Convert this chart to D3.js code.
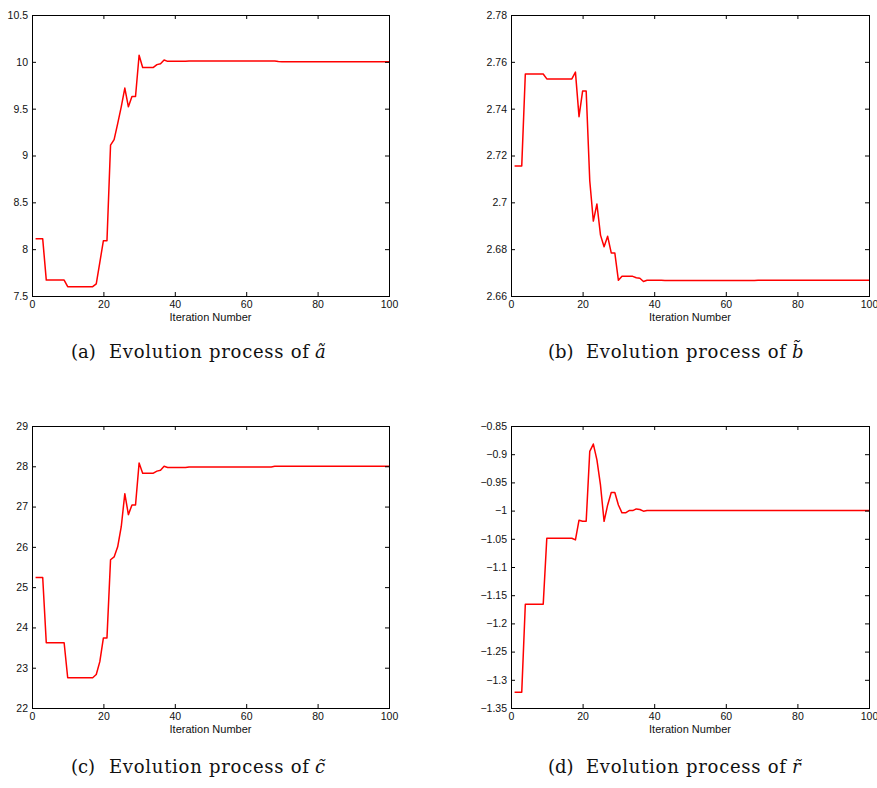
<!DOCTYPE html>
<html>
  <head>
    <title>Evolution process of the estimated parameters</title>
    <meta charset="UTF-8">
    <style>
      body { margin: 0; background: #fff; }
      svg { display: block; }
    </style>
  </head>
  <body>

    <svg></svg>

    <script src="https://d3js.org/d3.v7.min.js"></script>
    <script>

/* DATA (one value per iteration 1..100) */

var iterations = d3.range(1, 101);

var aValues = [
  8.11, 8.11, 8.11,
  7.67, 7.67, 7.67, 7.67, 7.67, 7.67,
  7.60, 7.60, 7.60, 7.60, 7.60, 7.60, 7.60, 7.60,
  7.63, 7.86, 8.09, 8.09, 9.11, 9.17, 9.34, 9.52, 9.72, 9.52,
  9.63, 9.63, 10.07, 9.94, 9.94, 9.94, 9.94, 9.97, 9.98, 10.02,
  10.005, 10.005, 10.005, 10.005, 10.005, 10.006,
  10.01, 10.01, 10.01, 10.01, 10.01, 10.01, 10.01, 10.01, 10.01, 10.01,
  10.01, 10.01, 10.01, 10.01, 10.01, 10.01, 10.01, 10.01, 10.01, 10.01,
  10.01, 10.01, 10.01, 10.01, 10.01,
  10.003,
  10.00, 10.00, 10.00, 10.00, 10.00, 10.00, 10.00, 10.00, 10.00, 10.00,
  10.00, 10.00, 10.00, 10.00, 10.00, 10.00, 10.00, 10.00, 10.00, 10.00,
  10.00, 10.00, 10.00, 10.00, 10.00, 10.00, 10.00, 10.00, 10.00, 10.00,
  10.00
];

var bValues = [
  2.7155, 2.7155, 2.7155,
  2.7548, 2.7548, 2.7548, 2.7548, 2.7548, 2.7548,
  2.7527, 2.7527, 2.7527, 2.7527, 2.7527, 2.7527, 2.7527, 2.7527,
  2.7556, 2.7366, 2.7475, 2.7475, 2.7092, 2.6920, 2.6993, 2.6860, 2.6810, 2.6855,
  2.6784, 2.6784, 2.6667, 2.6684, 2.6684, 2.6684, 2.6684, 2.6678, 2.6676, 2.6662,
  2.6667, 2.6667, 2.6667, 2.6667, 2.6667,
  2.6666, 2.6666, 2.6666, 2.6666, 2.6666, 2.6666, 2.6666, 2.6666, 2.6666, 2.6666,
  2.6666, 2.6666, 2.6666, 2.6666, 2.6666, 2.6666, 2.6666, 2.6666, 2.6666, 2.6666,
  2.6666, 2.6666, 2.6666, 2.6666, 2.6666, 2.6666,
  2.6667, 2.6667, 2.6667, 2.6667, 2.6667, 2.6667, 2.6667, 2.6667, 2.6667, 2.6667,
  2.6667, 2.6667, 2.6667, 2.6667, 2.6667, 2.6667, 2.6667, 2.6667, 2.6667, 2.6667,
  2.6667, 2.6667, 2.6667, 2.6667, 2.6667, 2.6667, 2.6667, 2.6667, 2.6667, 2.6667,
  2.6667, 2.6667
];

var cValues = [
  25.24, 25.24, 25.24,
  23.62, 23.62, 23.62, 23.62, 23.62, 23.62,
  22.75, 22.75, 22.75, 22.75, 22.75, 22.75, 22.75, 22.75,
  22.83, 23.15, 23.74, 23.74, 25.68, 25.75, 26.00, 26.50, 27.32, 26.80,
  27.04, 27.04, 28.08, 27.83, 27.83, 27.83, 27.83, 27.88, 27.90, 28.00,
  27.97, 27.97, 27.97, 27.97, 27.97, 27.97,
  27.985, 27.985, 27.985, 27.985, 27.985, 27.985, 27.985, 27.985, 27.985, 27.985,
  27.985, 27.985, 27.985, 27.985, 27.985, 27.985, 27.985, 27.985, 27.985, 27.985,
  27.985, 27.985, 27.985, 27.985,
  28.00, 28.00, 28.00, 28.00, 28.00, 28.00, 28.00, 28.00, 28.00, 28.00,
  28.00, 28.00, 28.00, 28.00, 28.00, 28.00, 28.00, 28.00, 28.00, 28.00,
  28.00, 28.00, 28.00, 28.00, 28.00, 28.00, 28.00, 28.00, 28.00, 28.00,
  28.00, 28.00, 28.00
];

var rValues = [
  -1.322, -1.322, -1.322,
  -1.166, -1.166, -1.166, -1.166, -1.166, -1.166,
  -1.049, -1.049, -1.049, -1.049, -1.049, -1.049, -1.049, -1.049,
  -1.052, -1.017, -1.019, -1.019, -0.895, -0.882, -0.910, -0.955, -1.019, -0.990,
  -0.968, -0.968, -0.990, -1.004, -1.004, -1.000, -1.000, -0.997, -0.998, -1.001,
  -1.000, -1.000, -1.000, -1.000, -1.000, -1.000, -1.000, -1.000, -1.000, -1.000,
  -1.000, -1.000, -1.000, -1.000, -1.000, -1.000, -1.000, -1.000, -1.000, -1.000,
  -1.000, -1.000, -1.000, -1.000, -1.000, -1.000, -1.000, -1.000, -1.000, -1.000,
  -1.000, -1.000, -1.000, -1.000, -1.000, -1.000, -1.000, -1.000, -1.000, -1.000,
  -1.000, -1.000, -1.000, -1.000, -1.000, -1.000, -1.000, -1.000, -1.000, -1.000,
  -1.000, -1.000, -1.000, -1.000, -1.000, -1.000, -1.000, -1.000, -1.000, -1.000,
  -1.000, -1.000, -1.000
];

// tick labels
var xTicks = [0, 20, 40, 60, 80, 100];
var aTicks = [7.5, 8, 8.5, 9, 9.5, 10, 10.5];
var bTicks = [2.66, 2.68, 2.70, 2.72, 2.74, 2.76, 2.78];
var cTicks = [22, 23, 24, 25, 26, 27, 28, 29];
var rTicks = [-1.35, -1.3, -1.25, -1.2, -1.15, -1.1, -1.05, -1, -0.95, -0.9, -0.85];

var xLabel = "Iteration Number";
var captionLabels = ["(a)", "(b)", "(c)", "(d)"];
var captionText = "Evolution process of";
var captionVars = ["a", "b", "c", "r"];

/* LAYOUT */

var config = {
  "width": 877,
  "height": 788,
  "lineColor": "#ff0000",
  "tickFont": "'Liberation Sans', Arial, Helvetica, sans-serif",
  "captionFont": "'DejaVu Serif', 'Liberation Serif', serif",
  "panels": [
    { "left": 32,  "top": 15,  "w": 357, "h": 281, "capX": 71,  "capY": 358 },
    { "left": 511, "top": 15,  "w": 358, "h": 281, "capX": 548, "capY": 358 },
    { "left": 32,  "top": 426, "w": 357, "h": 282, "capX": 71,  "capY": 773 },
    { "left": 511, "top": 426, "w": 358, "h": 282, "capX": 548, "capY": 773 }
  ]
};

var series = [aValues, bValues, cValues, rValues];
var yTicks = [aTicks, bTicks, cTicks, rTicks];

var svg = d3.select("svg")
  .attr("width", config.width)
  .attr("height", config.height);

var fmt = d3.format("~g");

function drawPanel(i) {
  var p = config.panels[i];
  var values = series[i];
  var ticks = yTicks[i];

  var g = svg.append("g")
    .attr("transform", "translate(" + p.left + "," + p.top + ")");

  var x = d3.scaleLinear().domain([0, 100]).range([0, p.w]);
  var y = d3.scaleLinear().domain(d3.extent(ticks)).range([p.h, 0]);

  // the red curve
  var line = d3.line()
    .x(function(d, j) { return x(iterations[j]); })
    .y(function(d) { return y(d); });

  g.append("path")
    .datum(values)
    .attr("fill", "none")
    .attr("stroke", config.lineColor)
    .attr("stroke-width", 1.5)
    .attr("stroke-linejoin", "round")
    .attr("d", line);

  // MATLAB style: ticks pointing inward on all four sides
  var bottom = g.append("g")
    .attr("transform", "translate(0," + p.h + ")")
    .call(d3.axisBottom(x).tickValues(xTicks).tickSizeInner(-4).tickSizeOuter(0).tickPadding(5));
  var left = g.append("g")
    .call(d3.axisLeft(y).tickValues(ticks).tickFormat(fmt).tickSizeInner(-4).tickSizeOuter(0).tickPadding(4));
  var top = g.append("g")
    .call(d3.axisTop(x).tickValues(xTicks).tickFormat("").tickSizeInner(-4).tickSizeOuter(0));
  var right = g.append("g")
    .attr("transform", "translate(" + p.w + ",0)")
    .call(d3.axisRight(y).tickValues(ticks).tickFormat("").tickSizeInner(-4).tickSizeOuter(0));

  [bottom, left, top, right].forEach(function(a) {
    a.select(".domain").remove();
    a.attr("font-family", config.tickFont).attr("font-size", 10.5);
    a.selectAll("text").attr("fill", "#111");
  });

  g.append("rect")
    .attr("x", 0.5)
    .attr("y", 0.5)
    .attr("width", p.w)
    .attr("height", p.h)
    .attr("fill", "none")
    .attr("stroke", "#000")
    .attr("stroke-width", 1);

  g.append("text")
    .attr("x", p.w / 2)
    .attr("y", p.h + 25)
    .attr("text-anchor", "middle")
    .attr("font-family", config.tickFont)
    .attr("font-size", 11)
    .attr("fill", "#111")
    .text(xLabel);

  // sub-figure caption
  var cap = svg.append("g")
    .attr("font-family", config.captionFont)
    .attr("font-size", 18)
    .attr("fill", "#111");

  cap.append("text")
    .attr("x", p.capX)
    .attr("y", p.capY)
    .text(captionLabels[i]);

  cap.append("text")
    .attr("x", p.capX + 38)
    .attr("y", p.capY)
    .attr("textLength", 200)
    .attr("lengthAdjust", "spacing")
    .text(captionText);

  cap.append("text")
    .attr("x", p.capX + 244)
    .attr("y", p.capY)
    .attr("font-style", "italic")
    .text(captionVars[i] + "\u0303");
}

for (var i = 0; i < 4; i++) drawPanel(i);

    </script>
  </body>
</html>
